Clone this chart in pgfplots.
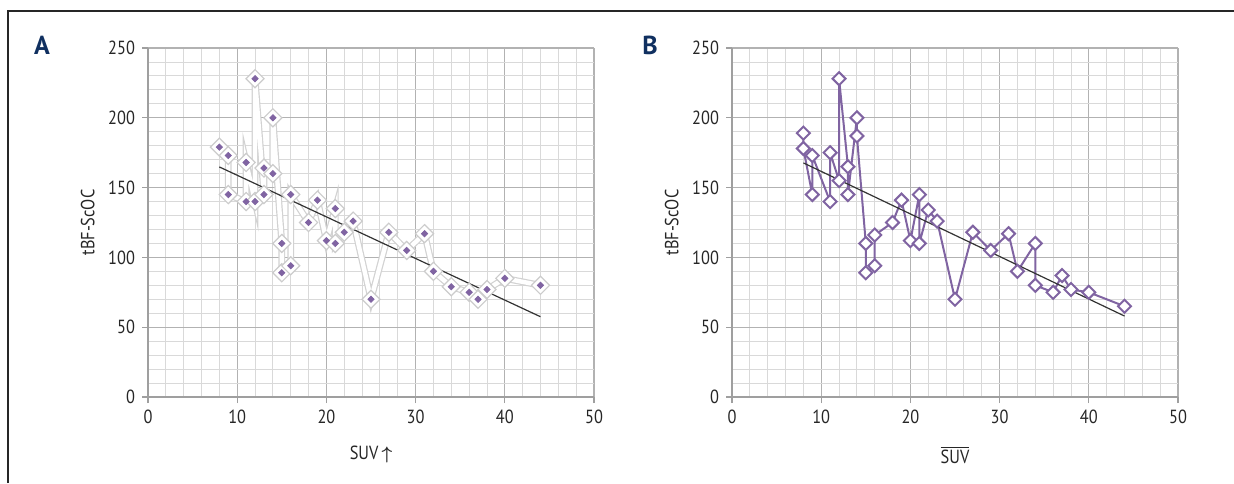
\documentclass[border=0pt]{standalone}
\usepackage{amsmath}
\usepackage{bm}
\usepackage{fontspec}
\setmainfont{PT Sans}[FakeStretch=0.86]
\newfontfamily\panelfont{PT Sans}
\usepackage{pgfplots}
\pgfplotsset{compat=1.18}
\definecolor{expurple}{RGB}{128,100,162}
\definecolor{panelnavy}{RGB}{16,48,96}

\pgfplotsset{
  panel/.style={
    anchor=south west, scale only axis,
    width=223pt, height=174.5pt,
    xmin=0, xmax=50, ymin=0, ymax=250,
    xtick={0,10,...,50}, ytick={0,50,...,250},
    minor x tick num=4, minor y tick num=4,
    grid=both,
    major grid style={gray!60, line width=0.55pt},
    minor grid style={gray!30, line width=0.45pt},
    axis lines=left, axis line style={-, gray!75, line width=0.6pt},
    tick align=outside, major tick length=3pt, minor tick length=0pt,
    tick style={gray!75, line width=0.6pt},
    tick label style={font=\fontsize{9.5}{11}\selectfont, text=black!85},
    /pgf/number format/assume math mode=true,
    label style={font=\fontsize{9.5}{11}\selectfont, text=black!85},
    ylabel={tBF-ScOC},
    ylabel style={at={(axis description cs:-0.135,0.5)}, anchor=center},
    xlabel style={at={(axis description cs:0.5,-0.166)}, anchor=center},
  }
}

\pgfplotstableread{
x y
8 179
9 173
9 145
11 140
11 168
12 140
12 228
13 145
13 164
14 160
14 200
15 110
15 89
16 94
16 145
18 125
19 141
20 112
21 135
21 110
22 118
23 126
25 70
27 118
29 105
31 117
32 90
34 79
36 75
37 70
38 77
40 85
44 80
}\dataA

\pgfplotstableread{
x y
8 189
8 178
9 145
9 173
11 140
11 175
12 155
12 228
13 165
13 145
14 200
14 187
15 110
15 89
16 94
16 116
18 125
19 141
20 112
21 145
21 110
22 134
23 126
25 70
27 118
29 105
31 117
32 90
34 110
34 80
36 75
37 87
38 77
40 75
44 65
}\dataB

\begin{document}
\begin{tikzpicture}
\useasboundingbox (0pt,0pt) rectangle (617pt,241.5pt);
\draw[black!85, line width=0.75pt] (4pt,0pt) -- (4pt,236pt) -- (617pt,236pt);
\node[font=\panelfont\bfseries\fontsize{13}{14}\selectfont, text=panelnavy] at (21pt,219pt) {A};
\node[font=\panelfont\bfseries\fontsize{13}{14}\selectfont, text=panelnavy] at (325pt,219pt) {B};

\begin{axis}[panel, at={(74pt,43pt)}, xlabel={SUV\,$\bm{\uparrow}$}]
\addplot[gray!35, line width=3.4pt, mark=none] table {\dataA};
\addplot[white, line width=2.2pt, mark=none] table {\dataA};
\addplot[only marks, mark=square*, mark size=3.2pt,
  mark options={rotate=45, fill=white, draw=gray!40, line width=0.6pt}] table {\dataA};
\addplot[only marks, mark=square*, mark size=1.1pt,
  mark options={rotate=45, fill=expurple, draw=expurple}] table {\dataA};
\addplot[black!80, line width=0.6pt, mark=none] coordinates {(8,164.8) (44,57.5)};
\end{axis}

\begin{axis}[panel, at={(366pt,43pt)}, xlabel={$\overline{\mbox{SUV}}$}]
\addplot[expurple, line width=1pt, mark=square*, mark size=2.3pt,
  mark options={rotate=45, fill=white, draw=expurple, line width=1pt}] table {\dataB};
\addplot[black!80, line width=0.6pt, mark=none] coordinates {(8,167.7) (44,58)};
\end{axis}
\end{tikzpicture}
\end{document}
